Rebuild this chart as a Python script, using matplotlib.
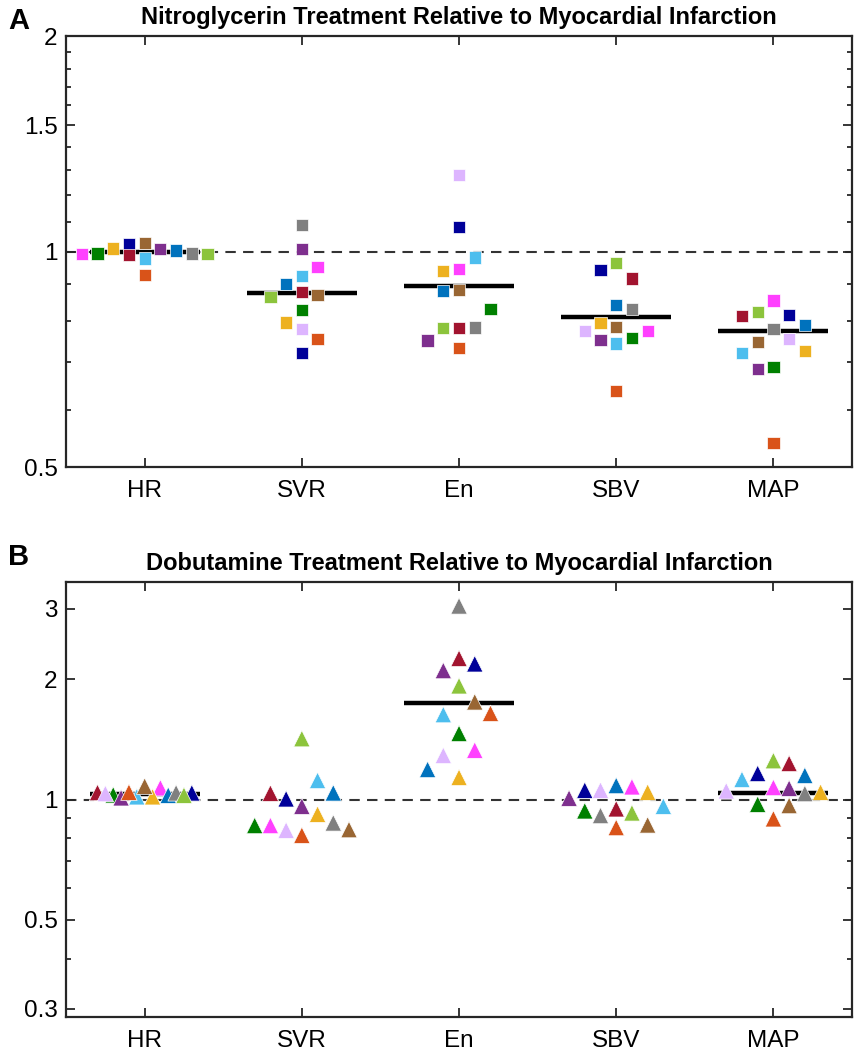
import numpy as np
import matplotlib.pyplot as plt
from matplotlib.ticker import FixedLocator, NullFormatter

plt.rcParams['font.family'] = ['Liberation Sans', 'DejaVu Sans']

groups = ['HR', 'SVR', 'En', 'SBV', 'MAP']

# one colour per subject, same order in every list below
subject_colors = ['#FF40FF', '#008000', '#EDB120', '#000099', '#A2142F', '#4DBEEE', '#996633',
                  '#7E2F8E', '#0072BD', '#808080', '#8CC43C', '#D95319', '#DDB5FF']

# nitroglycerin / MI ratios (panel A)
ntg_hr = [0.992, 0.994, 1.010, 1.024, 0.989, 0.978, 1.029, 1.008, 1.003, 0.994, 0.991, 0.927, np.nan]
ntg_svr = [0.952, 0.829, 0.796, 0.722, 0.877, 0.924, 0.869, 1.007, 0.901, 1.089, 0.865, 0.754, 0.779]
ntg_en = [0.945, 0.832, 0.940, 1.083, 0.781, 0.981, 0.884, 0.751, 0.881, 0.783, 0.781, 0.733, 1.279]
ntg_sbv = [0.775, 0.758, 0.794, 0.942, 0.917, 0.744, 0.785, 0.752, 0.842, 0.831, 0.964, 0.639, 0.774]
ntg_map = [0.854, 0.690, 0.726, 0.815, 0.813, 0.722, 0.747, 0.686, 0.790, 0.780, 0.823, 0.540, 0.755]
ntg_median = [0.997, 0.874, 0.896, 0.809, 0.774]

# dobutamine / MI ratios (panel B)
dob_hr = [1.070, 1.027, 1.016, 1.039, 1.041, 1.016, 1.080, 1.010, 1.025, 1.039, 1.025, 1.043, 1.035]
dob_svr = [0.861, 0.861, 0.919, 1.004, 1.037, 1.116, 0.841, 0.962, 1.039, 0.874, 1.420, 0.814, 0.838]
dob_en = [1.329, 1.463, 1.136, 2.185, 2.255, 1.631, 1.755, 2.102, 1.189, 3.050, 1.925, 1.643, 1.289]
dob_sbv = [1.076, 0.937, 1.043, 1.055, 0.948, 0.962, 0.864, 1.008, 1.084, 0.912, 0.926, 0.851, 1.055]
dob_map = [1.072, 0.973, 1.043, 1.162, 1.231, 1.123, 0.966, 1.067, 1.149, 1.035, 1.251, 0.895, 1.051]
dob_median = [1.03, np.nan, 1.742, np.nan, 1.04]

# horizontal swarm offsets of each marker (layout only)
ntg_jitter = [
	[-0.4, -0.3, -0.2, -0.1, -0.1, 0.0, 0.0, 0.1, 0.2, 0.3, 0.4, 0.0, 0.0],
	[0.1, 0.0, -0.1, 0.0, 0.0, 0.0, 0.1, 0.0, -0.1, 0.0, -0.2, 0.1, 0.0],
	[0.0, 0.2, -0.1, 0.0, 0.0, 0.1, 0.0, -0.2, -0.1, 0.1, -0.1, 0.0, 0.0],
	[0.2, 0.1, -0.1, -0.1, 0.1, 0.0, 0.0, -0.1, 0.0, 0.1, 0.0, 0.0, -0.2],
	[0.0, 0.0, 0.2, 0.1, -0.2, -0.2, -0.1, -0.1, 0.2, 0.0, -0.1, 0.0, 0.1],
]
dob_jitter = [
	[0.1, -0.2, 0.05, 0.3, -0.3, -0.05, 0.0, -0.15, 0.15, 0.2, 0.25, -0.1, -0.25],
	[-0.2, -0.3, 0.1, -0.1, -0.2, 0.1, 0.3, 0.0, 0.2, 0.2, 0.0, 0.0, -0.1],
	[0.1, 0.0, 0.0, 0.1, 0.0, -0.1, 0.1, -0.1, -0.2, 0.0, 0.0, 0.2, -0.1],
	[0.1, -0.2, 0.2, -0.2, 0.0, 0.3, 0.2, -0.3, 0.0, -0.1, 0.1, 0.0, -0.1],
	[0.0, -0.1, 0.3, -0.1, 0.1, -0.2, 0.1, 0.1, 0.2, 0.2, 0.0, 0.0, -0.3],
]


def draw_panel(ax, data, jitter, medians, marker, msize, title, ylim, major, minor):
	ax.set_yscale('log')
	ax.axhline(1.0, color='#333333', lw=1.5, ls=(0, (5, 3.5)), zorder=1)
	for i, vals in enumerate(data):
		xs = i + 1 + np.array(jitter[i])
		ax.scatter(xs, vals, s=msize ** 2, marker=marker, c=subject_colors,
				   edgecolors='white', linewidths=0.5, zorder=3)
		if not np.isnan(medians[i]):
			ax.plot([i + 1 - 0.35, i + 1 + 0.35], [medians[i], medians[i]],
					color='black', lw=3.2, solid_capstyle='butt', zorder=2)
	ax.set_xlim(0.5, 5.5)
	ax.set_ylim(*ylim)
	ax.set_xticks(range(1, 6))
	ax.set_xticklabels(groups)
	ax.yaxis.set_major_locator(FixedLocator(major))
	ax.set_yticklabels([('%g' % v) for v in major])
	ax.yaxis.set_minor_locator(FixedLocator(minor))
	ax.yaxis.set_minor_formatter(NullFormatter())
	ax.tick_params(which='both', direction='in', top=True, right=True, width=1.3,
				   colors='#262626', labelcolor='black', labelsize=17.5)
	ax.tick_params(which='major', length=6.5)
	ax.tick_params(which='minor', length=3.5)
	ax.tick_params(axis='x', pad=9)
	ax.tick_params(axis='y', pad=6)
	for sp in ax.spines.values():
		sp.set_linewidth(1.6)
		sp.set_color('#262626')
	ax.set_title(title, fontsize=17, fontweight='bold', pad=9)


fig = plt.figure(figsize=(8.58, 10.5), dpi=100)
ax1 = fig.add_axes([0.077, 0.5552, 0.916, 0.4105])
ax2 = fig.add_axes([0.077, 0.0314, 0.916, 0.4143])

draw_panel(ax1, [ntg_hr, ntg_svr, ntg_en, ntg_sbv, ntg_map], ntg_jitter, ntg_median, 's', 8.8,
		   'Nitroglycerin Treatment Relative to Myocardial Infarction',
		   (0.5, 2.0), [0.5, 1, 1.5, 2],
		   [0.6, 0.7, 0.8, 0.9, 1.1, 1.2, 1.3, 1.4, 1.6, 1.7, 1.8, 1.9])
draw_panel(ax2, [dob_hr, dob_svr, dob_en, dob_sbv, dob_map], dob_jitter, dob_median, '^', 11.8,
		   'Dobutamine Treatment Relative to Myocardial Infarction',
		   (1 / 3.5, 3.5), [0.3, 0.5, 1, 2, 3],
		   [0.4, 0.6, 0.7, 0.8, 0.9])

fig.text(8 / 858, 1 - 7 / 1050, 'A', fontsize=21, fontweight='bold', ha='left', va='top')
fig.text(8 / 858, 1 - 543 / 1050, 'B', fontsize=21, fontweight='bold', ha='left', va='top')

fig.savefig('out.png', dpi=100)
